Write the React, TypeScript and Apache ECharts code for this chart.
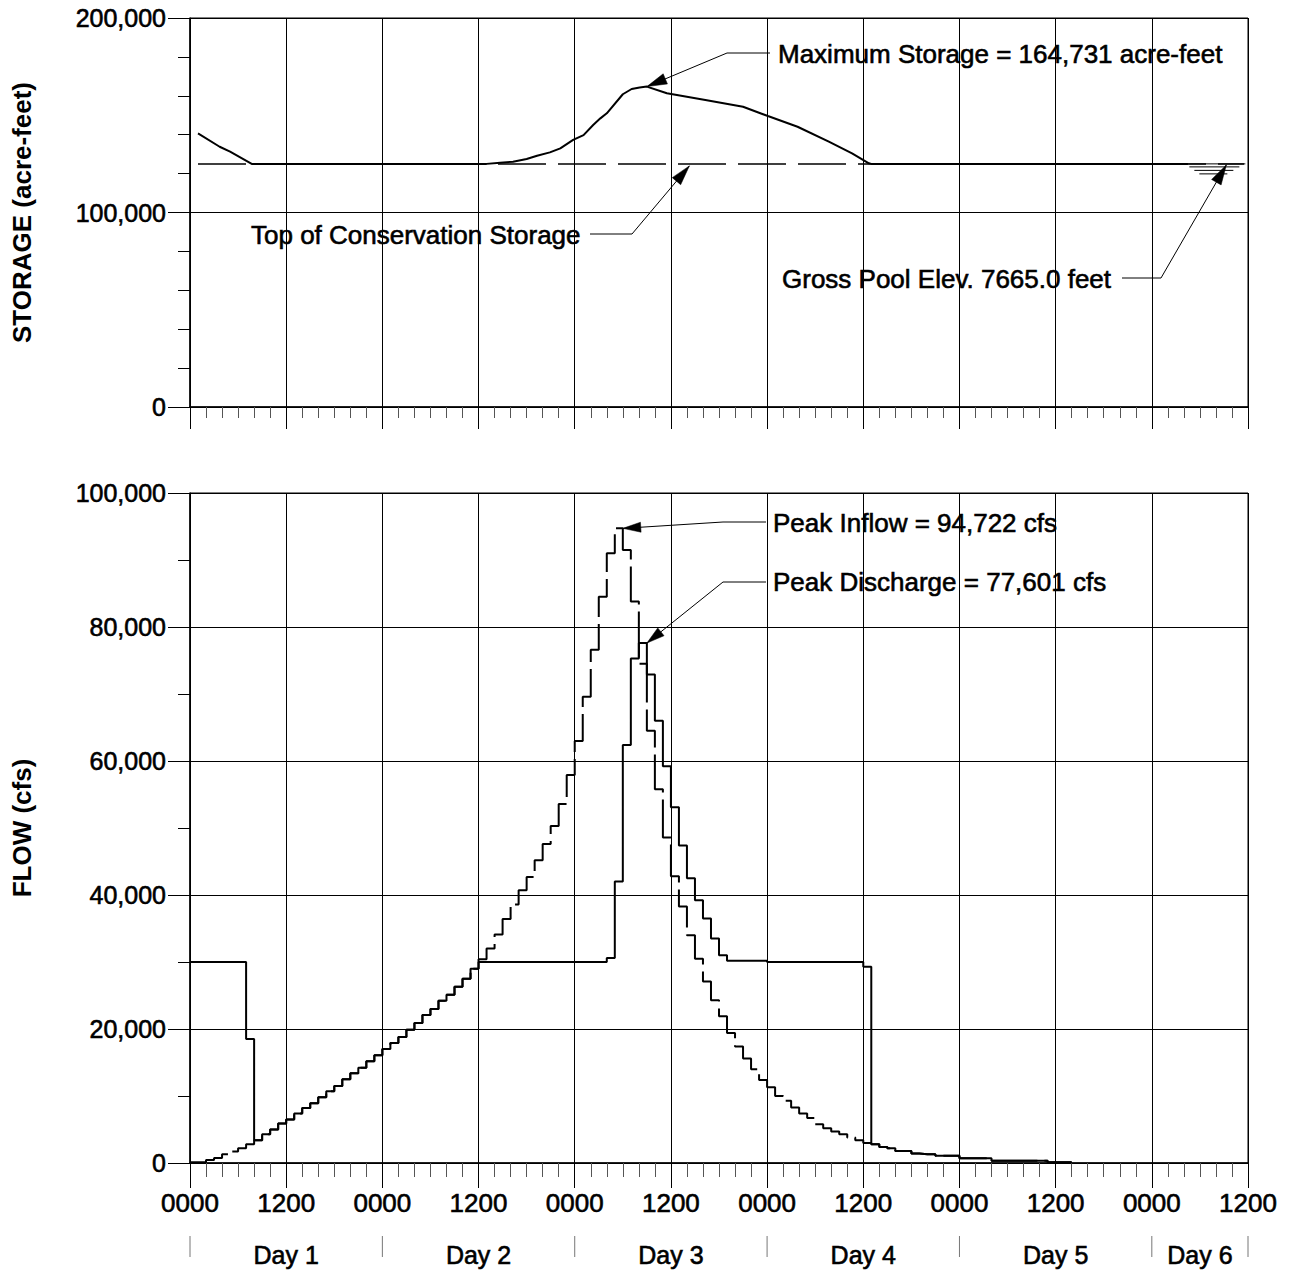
import React, { useEffect, useRef } from 'react';
import * as echarts from 'echarts';

const FONT = '"Liberation Sans", Arial, Helvetica, sans-serif';
const INK = '#000';
const TEXT_WEIGHT = 0.6; // slight outline so the lettering reads heavier

// ---- time axis: hours from 0000 on Day 1 ----
const TIME_MIN = 0;
const TIME_MAX = 132;
const TIME_STEP = 12;
const clockLabels = ['0000', '1200'];
const dayNames = ['Day 1', 'Day 2', 'Day 3', 'Day 4', 'Day 5', 'Day 6'];
const dayMidHours = [12, 36, 60, 84, 108, 126];
const dayBoundaryHours = [0, 24, 48, 72, 96, 120, 132];

// ---- reservoir storage (acre-feet) ----
const STORAGE_AXIS_MAX = 200000;
const STORAGE_AXIS_STEP = 100000;
const storageHours = [
  1, 3.7, 5, 7.7, 37, 38.7, 40.3, 42, 43.3, 44.9, 46.2, 47.8, 49.1, 50.3, 51.2, 52, 54, 55.1, 56.1, 57,
  59.5, 64.3, 69, 72.1, 75.8, 79.7, 82.6, 84.7, 85, 124.5,
];
const storageAcreFeet = [
  140700, 133800, 131300, 125000, 125000, 125600, 126100, 127500, 129200, 130900, 133000, 137300, 139800,
  145000, 148400, 151000, 160800, 163500, 164300, 164731, 161300, 157800, 154400, 149600, 144100, 136400,
  130400, 125300, 125000, 125000,
];
const conservationStorage = 125000;
const conservationHours = [1, 131.5];
const maxStorage = 164731;
const maxStorageHour = 57;
const grossPoolHour = 129.3;
const conservationArrowHour = 62.3;

// ---- flows (cfs), one value per hour, held from that hour to the next ----
const FLOW_AXIS_MAX = 100000;
const FLOW_AXIS_STEP = 20000;
const inflowCfs = [
  100, 100, 450, 750, 1300, 1700, 2200, 2800, 3400, 4300,
  5000, 5900, 6500, 7400, 8200, 8900, 9800, 10700, 11500, 12500,
  13400, 14200, 15200, 16100, 17000, 17900, 18800, 19900, 20900, 22100,
  23000, 24200, 25100, 26300, 27500, 29000, 30400, 32000, 34100, 36400,
  38600, 40700, 42700, 45200, 47600, 50300, 53600, 57900, 63000, 69600,
  76600, 84500, 91000, 94722, 91500, 83800, 74500, 64500, 55800, 48600,
  42800, 38300, 34000, 30500, 27100, 24300, 21900, 19400, 17400, 15600,
  14000, 12400, 11300, 10000, 9300, 8300, 7400, 6700, 5800, 5200,
  4700, 4300, 3800, 3400, 3000, 2800, 2400, 2200, 1800, 1800,
  1400, 1300, 1300, 1100, 1100, 1100, 700, 700, 700, 700,
  350, 350, 350, 350, 350, 350, 350, 100, 100, 100,
];
const dischargeCfs = [
  30000, 30000, 30000, 30000, 30000, 30000, 30000, 18500, 3400, 4300,
  5000, 5900, 6500, 7400, 8200, 8900, 9800, 10700, 11500, 12500,
  13400, 14200, 15200, 16100, 17000, 17900, 18800, 19900, 20900, 22100,
  23000, 24200, 25100, 26300, 27500, 29000, 30000, 30000, 30000, 30000,
  30000, 30000, 30000, 30000, 30000, 30000, 30000, 30000, 30000, 30000,
  30000, 30000, 30600, 42000, 62400, 75300, 77601, 72900, 66000, 59200,
  53100, 47400, 42500, 39200, 36500, 33500, 31000, 30200, 30200, 30200,
  30200, 30200, 30000, 30000, 30000, 30000, 30000, 30000, 30000, 30000,
  30000, 30000, 30000, 30000, 29300, 2800, 2400, 2200, 1800, 1800,
  1400, 1300, 1300, 1100, 1100, 1100, 700, 700, 700, 700,
  350, 350, 350, 350, 350, 350, 350, 100, 100, 100,
];
const peakInflow = 94722;
const peakInflowHour = 53;
const peakDischarge = 77601;
const peakDischargeHour = 56;

const stepPoints = (vals: number[]) => [
  ...vals.map((v, h) => [h, v]),
  [vals.length, vals[vals.length - 1]],
];
const thousands = (v: number) => Math.round(v).toLocaleString('en-US');

function timeAxis(gridIndex: number, withLabels: boolean) {
  return {
    gridIndex,
    type: 'value',
    min: TIME_MIN,
    max: TIME_MAX,
    interval: TIME_STEP,
    axisLine: { show: true, onZero: false, lineStyle: { color: INK, width: 1.5 } },
    axisTick: { show: true, length: withLabels ? 25 : 22, lineStyle: { color: INK, width: 1 } },
    minorTick: { show: true, splitNumber: 6, length: withLabels ? 14 : 11, lineStyle: { color: '#555', width: 1 } },
    axisLabel: withLabels
      ? {
          show: true,
          margin: 27,
          fontSize: 26,
          fontFamily: FONT,
          color: INK,
          textBorderColor: INK,
          textBorderWidth: TEXT_WEIGHT,
          showMinLabel: true,
          showMaxLabel: true,
          formatter: (v: number) => clockLabels[Math.round(v / TIME_STEP) % 2],
        }
      : { show: false },
    splitLine: { show: true, lineStyle: { color: INK, width: 1 } },
  };
}

function valueAxis(gridIndex: number, max: number, step: number, minorSplit: number) {
  return {
    gridIndex,
    type: 'value',
    min: 0,
    max,
    interval: step,
    axisLine: { show: true, lineStyle: { color: INK, width: 1.5 } },
    axisTick: { show: true, length: 22, lineStyle: { color: INK, width: 1 } },
    minorTick: { show: true, splitNumber: minorSplit, length: 12, lineStyle: { color: INK, width: 1 } },
    axisLabel: {
      show: true,
      margin: 24,
      fontSize: 25,
      fontFamily: FONT,
      color: INK,
      textBorderColor: INK,
      textBorderWidth: TEXT_WEIGHT,
      showMinLabel: true,
      showMaxLabel: true,
      formatter: (v: number) => thousands(v),
    },
    splitLine: { show: true, lineStyle: { color: INK, width: 1 } },
  };
}

function arrowHead(from: number[], tip: number[], len = 18, half = 5) {
  const dx = tip[0] - from[0];
  const dy = tip[1] - from[1];
  const d = Math.hypot(dx, dy) || 1;
  const ux = dx / d;
  const uy = dy / d;
  const bx = tip[0] - ux * len;
  const by = tip[1] - uy * len;
  return {
    type: 'polygon',
    silent: true,
    shape: { points: [tip, [bx - uy * half, by + ux * half], [bx + uy * half, by - ux * half]] },
    style: { fill: INK, stroke: INK, lineWidth: 0.5 },
  };
}

function leader(points: number[][]) {
  return {
    type: 'polyline',
    silent: true,
    shape: { points },
    style: { stroke: INK, lineWidth: 1, fill: null },
  };
}

function label(text: string, x: number, y: number, size = 26, extra: any = {}) {
  return {
    type: 'text',
    silent: true,
    x,
    y,
    ...extra,
    style: {
      text,
      fill: INK,
      stroke: extra.bold ? null : INK,
      lineWidth: extra.bold ? 0 : TEXT_WEIGHT,
      fontSize: size,
      fontFamily: FONT,
      fontWeight: extra.bold ? 'bold' : 'normal',
      align: extra.center ? 'center' : 'left',
      textAlign: extra.center ? 'center' : 'left',
      verticalAlign: 'middle',
      textVerticalAlign: 'middle',
    },
  };
}

export default function App() {
  const ref = useRef<HTMLDivElement>(null);

  useEffect(() => {
    if (!ref.current) return;
    const chart = echarts.init(ref.current, null, { renderer: 'svg' });

    const option: any = {
      animation: false,
      backgroundColor: '#fff',
      grid: [
        { left: 190, top: 18, width: 1058, height: 389, show: true, borderColor: INK, borderWidth: 1 },
        { left: 190, top: 493, width: 1058, height: 670, show: true, borderColor: INK, borderWidth: 1 },
      ],
      xAxis: [timeAxis(0, false), timeAxis(1, true)],
      yAxis: [
        valueAxis(0, STORAGE_AXIS_MAX, STORAGE_AXIS_STEP, 5),
        valueAxis(1, FLOW_AXIS_MAX, FLOW_AXIS_STEP, 2),
      ],
      series: [
        {
          name: 'Top of Conservation Storage',
          type: 'line',
          xAxisIndex: 0,
          yAxisIndex: 0,
          showSymbol: false,
          silent: true,
          data: conservationHours.map((h) => [h, conservationStorage]),
          lineStyle: { color: INK, width: 1.5, type: [48, 12] },
        },
        {
          name: 'Storage',
          type: 'line',
          xAxisIndex: 0,
          yAxisIndex: 0,
          showSymbol: false,
          silent: true,
          data: storageHours.map((h, i) => [h, storageAcreFeet[i]]),
          lineStyle: { color: INK, width: 2 },
        },
        {
          name: 'Inflow',
          type: 'line',
          xAxisIndex: 1,
          yAxisIndex: 1,
          step: 'end',
          showSymbol: false,
          silent: true,
          data: stepPoints(inflowCfs),
          lineStyle: { color: INK, width: 2, type: [46, 7] },
        },
        {
          name: 'Discharge',
          type: 'line',
          xAxisIndex: 1,
          yAxisIndex: 1,
          step: 'end',
          showSymbol: false,
          silent: true,
          data: stepPoints(dischargeCfs),
          lineStyle: { color: INK, width: 2 },
        },
      ],
    };
    chart.setOption(option);

    const px = (g: number, x: number, y: number) =>
      chart.convertToPixel({ gridIndex: g } as any, [x, y]) as unknown as number[];

    const graphics: any[] = [];

    // axis titles
    const storageMid = px(0, 0, STORAGE_AXIS_MAX / 2);
    const flowMid = px(1, 0, FLOW_AXIS_MAX / 2);
    graphics.push(label('STORAGE (acre-feet)', 22, storageMid[1], 26, { bold: true, center: true, rotation: Math.PI / 2 }));
    graphics.push(label('FLOW (cfs)', 22, flowMid[1], 26, { bold: true, center: true, rotation: Math.PI / 2 }));

    // day captions and separators under the time axis
    dayNames.forEach((d, i) => {
      const p = px(1, dayMidHours[i], 0);
      graphics.push(label(d, p[0], 1255, 25, { center: true }));
    });
    dayBoundaryHours.forEach((h) => {
      const p = px(1, h, 0);
      graphics.push({
        type: 'line',
        silent: true,
        shape: { x1: p[0], y1: 1236, x2: p[0], y2: 1257 },
        style: { stroke: '#777', lineWidth: 1 },
      });
    });

    // maximum storage callout
    {
      const tip = px(0, maxStorageHour, maxStorage);
      const elbow = [727, 53];
      graphics.push(leader([[770, 53], elbow, tip]));
      graphics.push(arrowHead(elbow, tip, 20, 5.5));
      graphics.push(label('Maximum Storage = ' + thousands(maxStorage) + ' acre-feet', 778, 54));
    }
    // top of conservation callout
    {
      const t = px(0, conservationArrowHour, conservationStorage);
      const tip = [t[0], t[1] + 2];
      const elbow = [632, 234];
      graphics.push(leader([[590, 234], elbow, tip]));
      graphics.push(arrowHead(elbow, tip, 20, 5.5));
      graphics.push(label('Top of Conservation Storage', 251, 235));
    }
    // gross pool callout with water-surface symbol
    {
      const t = px(0, grossPoolHour, conservationStorage);
      const tip = [t[0], t[1] + 1];
      const elbow = [1161, 278];
      graphics.push(leader([[1122, 278], elbow, tip]));
      graphics.push(arrowHead(elbow, tip, 20, 5.5));
      const bars = [
        [0, -42, 19],
        [3, -37, 13],
        [6.5, -32, 7],
        [10, -27, 1],
      ];
      bars.forEach(([dy, a, b]) => {
        graphics.push({
          type: 'line',
          silent: true,
          shape: { x1: t[0] + a, y1: t[1] + dy, x2: t[0] + b, y2: t[1] + dy },
          style: { stroke: INK, lineWidth: 1 },
        });
      });
      graphics.push(label('Gross Pool Elev. 7665.0 feet', 782, 279));
    }
    // peak inflow callout
    {
      const tip = px(1, peakInflowHour + 1, peakInflow);
      const elbow = [723, 522];
      graphics.push(leader([[766, 522], elbow, tip]));
      graphics.push(arrowHead(elbow, tip));
      graphics.push(label('Peak Inflow = ' + thousands(peakInflow) + ' cfs', 773, 523));
    }
    // peak discharge callout
    {
      const tip = px(1, peakDischargeHour + 1, peakDischarge);
      const elbow = [723, 582];
      graphics.push(leader([[766, 582], elbow, tip]));
      graphics.push(arrowHead(elbow, tip));
      graphics.push(label('Peak Discharge = ' + thousands(peakDischarge) + ' cfs', 773, 582));
    }

    chart.setOption({ graphic: graphics });

    return () => chart.dispose();
  }, []);

  return (
    <div
      ref={ref}
      style={{ position: 'fixed', left: 0, top: 0, width: 1300, height: 1272, background: '#fff' }}
    />
  );
}
